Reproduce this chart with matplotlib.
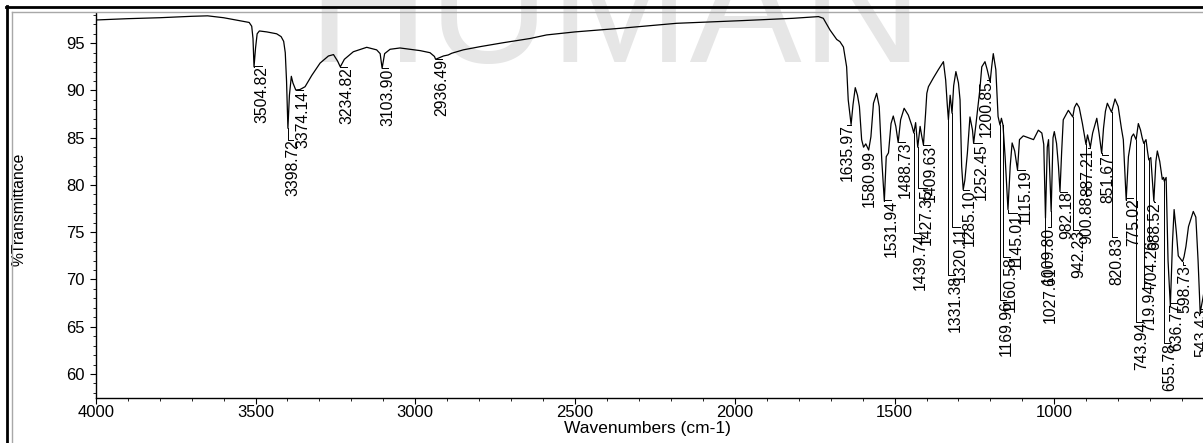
import matplotlib
matplotlib.use('Agg')
import matplotlib.pyplot as plt
from matplotlib.lines import Line2D
from matplotlib.ticker import MultipleLocator

plt.rcParams['font.family'] = ['Liberation Sans', 'DejaVu Sans']

# spectrum
wavenumber = [4000, 3900, 3800, 3700, 3650, 3600, 3560, 3520, 3512, 3508, 3504.8, 3500, 3495,
              3488, 3465, 3434, 3420, 3412, 3407, 3403, 3398.7, 3394, 3388, 3383, 3374.1,
              3361, 3345, 3324, 3298, 3272, 3256, 3243, 3234.8, 3222, 3194, 3152, 3121, 3110,
              3103.9, 3096, 3079, 3048, 2985, 2954, 2940, 2936.5, 2912, 2897, 2886, 2850, 2797,
              2724, 2641, 2589, 2500, 2359, 2182, 1973, 1817, 1738, 1723, 1702, 1681, 1671,
              1660, 1650, 1645, 1636, 1630, 1623, 1616, 1610, 1603, 1597, 1590, 1581, 1574,
              1566, 1556, 1548, 1540, 1532, 1526, 1519, 1511, 1504, 1496, 1488.7, 1481, 1470,
              1457, 1446, 1439.7, 1434, 1427.4, 1420, 1415, 1409.6, 1403, 1399, 1394, 1379,
              1363, 1347, 1340, 1335, 1331.4, 1326, 1320.1, 1315, 1308, 1300, 1295, 1290,
              1285.1, 1280, 1272, 1264, 1256, 1252.5, 1245, 1233, 1227, 1217, 1210, 1200.9,
              1196, 1191, 1183, 1176, 1170, 1165.5, 1160.6, 1154, 1145, 1138, 1132, 1124,
              1115.2, 1109, 1097, 1076, 1065, 1050, 1039, 1033, 1027.6, 1022, 1018, 1009.8,
              1004, 1000, 993, 987, 982.2, 977, 972, 956, 942.2, 937, 930, 922, 912, 900.9,
              896, 887.2, 880, 867, 860, 851.7, 846, 840, 834, 820.8, 810, 800, 790, 784,
              775, 768, 758, 752, 743.9, 737, 730, 725, 719.9, 713, 708, 704.3, 698, 688.5,
              682, 677.5, 670, 662, 658, 655.8, 650, 644, 636.8, 630, 625, 618, 612, 598.7,
              594, 588, 580, 565, 557, 550, 543.4, 535, 525, 520]
transmittance = [97.46, 97.6, 97.7, 97.85, 97.9, 97.7, 97.45, 97.2, 96.8, 95.5, 92.5, 94.5, 96.0,
                 96.3, 96.2, 96.0, 95.7, 95.2, 94.0, 91.0, 86.0, 89.5, 91.5, 90.8, 90.05,
                 90.1, 90.4, 91.6, 92.9, 93.65, 93.8, 93.1, 92.5, 93.3, 94.1, 94.57, 94.3, 93.9,
                 92.35, 93.9, 94.36, 94.5, 94.22, 94.0, 93.6, 93.3, 93.65, 93.76, 93.94, 94.3, 94.64,
                 95.06, 95.5, 95.88, 96.2, 96.58, 97.11, 97.4, 97.64, 97.82, 97.64, 96.4, 95.4, 95.17,
                 94.6, 92.5, 89.0, 86.4, 88.5, 90.3, 89.5, 88.3, 84.8, 84.0, 84.35, 83.7, 85.1,
                 88.65, 89.7, 88.3, 82.65, 78.3, 83.0, 83.4, 86.5, 87.3, 86.2, 84.5, 86.9, 88.12,
                 87.4, 86.3, 85.5, 86.6, 84.0, 86.2, 85.2, 84.25, 87.5, 89.7, 90.4, 91.3,
                 92.2, 93.05, 91.1, 88.5, 86.9, 89.5, 87.6, 90.5, 92.0, 90.8, 89.0, 82.0,
                 79.5, 80.5, 83.4, 87.2, 85.8, 84.4, 86.5, 90.1, 92.5, 93.05, 92.2, 90.9,
                 92.5, 93.9, 92.2, 87.25, 86.35, 87.06, 86.35, 83.0, 77.4, 82.0, 84.45, 83.6,
                 81.6, 84.8, 85.2, 84.94, 84.8, 85.8, 85.5, 84.3, 76.5, 84.0, 84.8, 77.2,
                 85.0, 85.65, 84.4, 82.0, 79.3, 83.5, 86.9, 87.9, 87.2, 88.2, 88.65, 88.2, 86.5, 84.3,
                 85.3, 84.0, 85.5, 87.06, 85.5, 83.35, 86.0, 87.8, 88.65, 87.7, 89.1, 88.3, 86.0, 84.8,
                 78.4, 83.0, 85.1, 85.4, 84.8, 86.5, 85.8, 85.0, 84.4, 84.8, 83.5, 82.65, 82.9, 78.3,
                 82.5, 83.6, 82.5, 80.6, 80.8, 80.4, 80.8, 72.0, 67.2, 74.0, 77.4, 75.0, 72.5, 71.9,
                 72.4, 73.5, 75.6, 77.2, 76.6, 72.0, 66.5, 68.0, 70.0, 71.0]

# peak marks: where the peak is, and where its label starts (centre, top)
peak_wn = [3504.82, 3398.72, 3374.14, 3234.82, 3103.90, 2936.49, 1635.97, 1580.99, 1531.94,
           1488.73, 1439.74, 1427.35, 1409.63, 1331.38, 1320.11, 1285.10, 1252.45, 1200.85,
           1169.96, 1160.58, 1145.01, 1115.19, 1027.61, 1009.80, 982.18, 942.23, 900.88,
           887.21, 851.67, 820.83, 775.02, 743.94, 719.94, 704.26, 688.52, 655.78, 636.77,
           598.73, 543.43]
peak_t = [92.5, 86.0, 90.05, 92.5, 92.35, 93.3, 86.4, 83.7, 78.3,
          84.5, 85.5, 84.0, 84.25, 86.9, 87.6, 79.5, 84.4, 90.9,
          86.35, 86.35, 77.4, 81.6, 76.5, 77.2, 79.3, 87.2, 84.3,
          84.0, 83.35, 87.7, 78.4, 84.8, 84.4, 82.65, 78.3, 80.4, 67.2,
          71.9, 66.5]
label_wn = [3481, 3382, 3350.5, 3215, 3084.4, 2917.5, 1647.7, 1579, 1511,
            1467.3, 1420.3, 1399.5, 1389, 1310.8, 1295, 1266, 1227.3, 1211.6,
            1151, 1138.6, 1117.8, 1091.7, 1011.3, 1018.6, 961.3, 924.7, 898.7,
            893.5, 830.8, 802.7, 752.6, 726.5, 700.4, 695.2, 684.8, 637.8, 617,
            591, 539]
label_t = [92.6, 84.8, 90.0, 92.5, 92.35, 93.3, 86.4, 83.7, 78.4,
           84.6, 74.9, 79.65, 84.25, 70.5, 75.6, 79.5, 84.4, 91.1,
           67.8, 72.4, 77.0, 81.6, 71.4, 75.6, 79.3, 75.25, 78.8,
           83.9, 83.2, 74.5, 78.6, 65.5, 69.6, 74.2, 78.2, 63.25, 67.5,
           71.5, 66.9]

x_ticks = [4000, 3500, 3000, 2500, 2000, 1500, 1000]
y_ticks = [60, 65, 70, 75, 80, 85, 90, 95]

W, H = 1203, 443
fig = plt.figure(figsize=(W / 100, H / 100), dpi=100)

# window frame of the screenshot
fig.add_artist(Line2D([6 / W, 1], [1 - 7.3 / H] * 2, color='black', lw=2.0))
fig.add_artist(Line2D([6.7 / W] * 2, [0, 1 - 6.3 / H], color='black', lw=2.0))
fig.add_artist(Line2D([11.7 / W, 1], [1 - 11.8 / H] * 2, color='#a8a8a8', lw=1.0))
fig.add_artist(Line2D([11.7 / W] * 2, [0, 1 - 11.8 / H], color='#a8a8a8', lw=1.0))

# faint watermark behind the plot
fig.text(307 / W, 1 - 62 / H, 'HUMAN', fontsize=121, color='#e6e6e6',
         ha='left', va='baseline', zorder=-5)

px_per_wn = 0.3195
ax_w = (4000 - 520) * px_per_wn
ax = fig.add_axes([95.8 / W, 1 - 398 / H, ax_w / W, (398 - 13) / H])
ax.patch.set_visible(False)

ax.plot(wavenumber, transmittance, color='black', lw=0.9)

for w, t, lw_, lt, in zip(peak_wn, peak_t, label_wn, label_t):
    ax.plot([w, w, lw_], [t, lt, lt], color='black', lw=0.7)
    ax.text(lw_, lt, f'{w:.2f}', rotation=90, ha='center', va='top', fontsize=11.3)

ax.set_xlim(4000, 520)
ax.set_ylim(57.46, 98.2)
ax.set_xticks(x_ticks)
ax.set_yticks(y_ticks)
ax.xaxis.set_minor_locator(MultipleLocator(100))
ax.yaxis.set_minor_locator(MultipleLocator(1))
for s in ['top', 'right']:
    ax.spines[s].set_visible(False)
for s in ['left', 'bottom']:
    ax.spines[s].set_linewidth(1.0)
ax.tick_params(which='major', direction='out', length=4, width=0.8, labelsize=12)
ax.tick_params(which='minor', direction='out', length=2.5, width=0.6)
ax.tick_params(axis='x', which='major', pad=1)
ax.tick_params(axis='y', which='major', pad=4)

ax.set_xlabel('Wavenumbers (cm-1)', fontsize=12.5)
ax.set_ylabel('%Transmittance', fontsize=11.3)
ax.xaxis.set_label_coords((647 - 95.8) / ax_w, -23 / 385)
ax.yaxis.set_label_coords(-(95.8 - 27) / ax_w, 0.49)

fig.savefig('out.png', dpi=100)
